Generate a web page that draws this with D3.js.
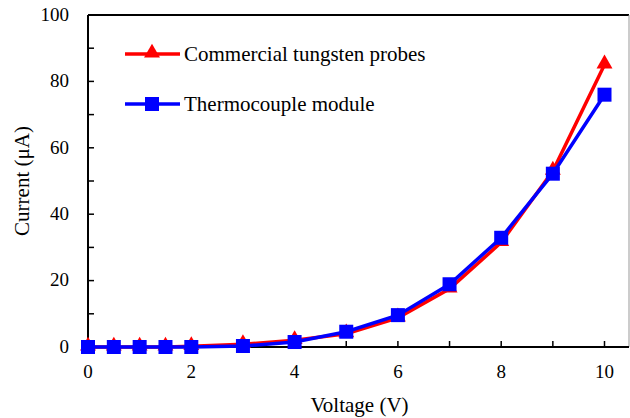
<!DOCTYPE html>
<meta charset="utf-8">
<html>
<head>
  <style>
    body { margin: 0; background: #fff; }
    svg { display: block; }
  </style>
</head>
<body>
<svg id="chart" width="630" height="418"></svg>
<script src="https://d3js.org/d3.v7.min.js"></script>
<script>
// data
const voltage = [0, 0.5, 1, 1.5, 2, 3, 4, 5, 6, 7, 8, 9, 10];
const tungsten = [0, 0, 0, 0, 0.2, 0.8, 2, 4, 8.8, 17.5, 31.5, 53, 85];
const thermo = [0, 0, 0, 0, 0, 0.3, 1.5, 4.6, 9.6, 18.9, 32.9, 52.2, 76];
const xTicks = [0, 2, 4, 6, 8, 10];
const yTicks = [0, 20, 40, 60, 80, 100];
const seriesNames = ["Commercial tungsten probes", "Thermocouple module"];

const FONT = "Liberation Serif";
const svg = d3.select("#chart");
const mLeft = 88, mRight = 629, mTop = 15, mBottom = 347;

const x = d3.scaleLinear().domain([0, 10]).range([88, 604.5]);
const y = d3.scaleLinear().domain([0, 100]).range([mBottom, mTop]);

// frame: top black, right grey
svg.append("line").attr("x1", mLeft).attr("x2", mRight).attr("y1", mTop).attr("y2", mTop)
  .attr("stroke", "#000").attr("stroke-width", 2);
svg.append("line").attr("x1", mRight).attr("x2", mRight).attr("y1", mTop).attr("y2", mBottom)
  .attr("stroke", "#999").attr("stroke-width", 1);

// y axis, ticks pointing inward
const yAxis = svg.append("g").attr("transform", `translate(${mLeft},0)`);
yAxis.append("line").attr("x1", 0).attr("x2", 0).attr("y1", mTop).attr("y2", mBottom)
  .attr("stroke", "#000").attr("stroke-width", 2);
yAxis.selectAll(".minor").data(d3.range(10, 100, 20)).join("line")
  .attr("x1", 0).attr("x2", 6).attr("y1", d => y(d)).attr("y2", d => y(d))
  .attr("stroke", "#000").attr("stroke-width", 1.5);
yAxis.selectAll(".major").data(yTicks).join("line")
  .attr("x1", 0).attr("x2", 6).attr("y1", d => y(d)).attr("y2", d => y(d))
  .attr("stroke", "#000").attr("stroke-width", 1.5);
yAxis.selectAll("text").data(yTicks).join("text")
  .attr("x", -19).attr("y", d => y(d)).attr("dy", "0.3em")
  .attr("font-family", FONT)
  .attr("text-anchor", "end").attr("font-size", 19).text(d => d);

// x axis, ticks pointing inward
const xAxis = svg.append("g").attr("transform", `translate(0,${mBottom})`);
xAxis.append("line").attr("x1", mLeft).attr("x2", mRight).attr("y1", 0).attr("y2", 0)
  .attr("stroke", "#000").attr("stroke-width", 2);
xAxis.selectAll(".tick").data(d3.range(1, 11)).join("line")
  .attr("x1", d => x(d)).attr("x2", d => x(d)).attr("y1", 0).attr("y2", -6)
  .attr("stroke", "#000").attr("stroke-width", 1.5);
xAxis.selectAll("text").data(xTicks).join("text")
  .attr("x", d => x(d)).attr("y", 31)
  .attr("font-family", FONT)
  .attr("text-anchor", "middle").attr("font-size", 19).text(d => d);

// axis titles
svg.append("text").attr("x", 359.5).attr("y", 412).attr("text-anchor", "middle")
  .attr("font-family", FONT).attr("font-size", 21).text("Voltage (V)");
svg.append("text").attr("transform", "translate(29,181) rotate(-90)")
  .attr("font-family", FONT)
  .attr("text-anchor", "middle").attr("font-size", 21).text("Current (μA)");

const line = d3.line().x(d => x(d[0])).y(d => y(d[1]));
const tri = d3.symbol().type(d3.symbolTriangle).size(110);

function drawSeries(vals, color, marker) {
  const pts = voltage.map((v, i) => [v, vals[i]]);
  svg.append("path").datum(pts).attr("d", line)
    .attr("fill", "none").attr("stroke", color).attr("stroke-width", 3.5);
  if (marker === "tri") {
    svg.selectAll(null).data(pts).join("path")
      .attr("d", tri).attr("transform", d => `translate(${x(d[0])},${y(d[1]) - 1})`)
      .attr("fill", color);
  } else {
    svg.selectAll(null).data(pts).join("rect")
      .attr("x", d => x(d[0]) - 7).attr("y", d => y(d[1]) - 7)
      .attr("width", 14).attr("height", 14).attr("fill", color);
  }
}
drawSeries(tungsten, "#ff0000", "tri");
drawSeries(thermo, "#0000ff", "sq");

// legend
const legend = [
  { name: seriesNames[0], color: "#ff0000", marker: "tri", y: 54 },
  { name: seriesNames[1], color: "#0000ff", marker: "sq", y: 104 }
];
legend.forEach(l => {
  svg.append("line").attr("x1", 125).attr("x2", 180).attr("y1", l.y).attr("y2", l.y)
    .attr("stroke", l.color).attr("stroke-width", 3.5);
  if (l.marker === "tri") {
    svg.append("path").attr("d", tri).attr("transform", `translate(152,${l.y - 1})`).attr("fill", l.color);
  } else {
    svg.append("rect").attr("x", 145).attr("y", l.y - 7).attr("width", 14).attr("height", 14).attr("fill", l.color);
  }
  svg.append("text").attr("x", 184).attr("y", l.y).attr("dy", "0.33em")
    .attr("font-family", FONT).attr("font-size", 21).text(l.name);
});
</script>
</body>
</html>
